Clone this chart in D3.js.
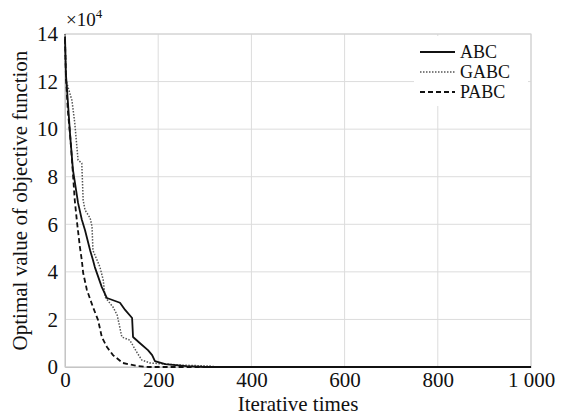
<!DOCTYPE html>
<html>
<head>
<meta charset="utf-8">
<script src="https://cdn.jsdelivr.net/npm/d3@7"></script>
<style>
  body { margin: 0; background: #fff; }
  text { font-family: "Liberation Serif", "Times New Roman", serif; fill: #111; }
</style>
</head>
<body>
<svg></svg>
<script>
// chart size
const width = 563;
const height = 415;
const margin = {top: 34, right: 32, bottom: 48, left: 65};

// data (values in units of 10^4)
const iterABC = [0, 2, 6, 11, 17, 28, 36, 43, 54, 60, 64, 79, 90, 118, 129, 144, 146, 161, 178, 187, 193, 215, 260, 300, 1000];
const valABC = [13.9, 12.3, 11.2, 9.75, 8.3, 6.9, 6.2, 5.75, 4.9, 4.5, 4.2, 3.36, 2.9, 2.7, 2.4, 2.06, 1.26, 1.0, 0.71, 0.5, 0.25, 0.12, 0.04, 0, 0];

const iterGABC = [0, 2, 15, 21, 28, 36, 39, 43, 54, 58, 60, 75, 82, 86, 103, 112, 122, 139, 155, 165, 182, 247, 311, 325, 1000];
const valGABC = [14.0, 12.06, 11.2, 10.25, 8.7, 8.57, 7.0, 6.6, 6.26, 5.9, 4.9, 4.2, 3.66, 2.94, 2.52, 2.18, 1.26, 1.13, 0.59, 0.29, 0.17, 0.08, 0.04, 0, 0];

const iterPABC = [0, 2, 6, 11, 15, 21, 26, 32, 36, 39, 47, 60, 71, 79, 90, 103, 124, 155, 180, 1000];
const valPABC = [13.8, 12.2, 10.8, 9.75, 8.7, 7.0, 6.05, 5.04, 4.5, 3.95, 3.24, 2.52, 1.97, 1.26, 0.84, 0.5, 0.17, 0.04, 0, 0];

const seriesNames = ["ABC", "GABC", "PABC"];
const xTicks = [0, 200, 400, 600, 800, 1000];
const xTickLabels = ["0", "200", "400", "600", "800", "1 000"];
const yTicks = [0, 2, 4, 6, 8, 10, 12, 14];

const svg = d3.select("svg")
  .attr("width", width)
  .attr("height", height);

const x = d3.scaleLinear().domain([0, 1000]).range([margin.left, width - margin.right]);
const y = d3.scaleLinear().domain([0, 14]).range([height - margin.bottom, margin.top]);

//grid
svg.append("g")
  .selectAll("line.vg")
  .data(xTicks)
  .enter().append("line")
  .attr("x1", d => x(d)).attr("x2", d => x(d))
  .attr("y1", y(0)).attr("y2", y(14))
  .attr("stroke", "#dcdcdc").attr("stroke-width", 1);
svg.append("g")
  .selectAll("line.hg")
  .data(yTicks)
  .enter().append("line")
  .attr("x1", x(0)).attr("x2", x(1000))
  .attr("y1", d => y(d)).attr("y2", d => y(d))
  .attr("stroke", "#dcdcdc").attr("stroke-width", 1);

//axes
const xAxis = svg.append("g")
  .attr("transform", `translate(0,${y(0)})`)
  .call(d3.axisBottom(x).tickValues(xTicks).tickFormat((d, i) => xTickLabels[i]).tickSize(0).tickPadding(5));
const yAxis = svg.append("g")
  .attr("transform", `translate(${x(0)},0)`)
  .call(d3.axisLeft(y).tickValues(yTicks).tickSize(0).tickPadding(7));
[xAxis, yAxis].forEach(a => {
  a.select(".domain").attr("stroke", "#bbb");
  a.selectAll("text").attr("font-size", 21).attr("font-family", "Liberation Serif").attr("fill", "#111");
});

//frame
svg.append("rect")
  .attr("x", x(0)).attr("y", y(14))
  .attr("width", x(1000) - x(0)).attr("height", y(0) - y(14))
  .attr("fill", "none").attr("stroke", "#cfcfcf");

//exponent label
const exp = svg.append("text").attr("x", 66).attr("y", 26).attr("font-size", 19);
exp.append("tspan").text("×10");
exp.append("tspan").text("4").attr("font-size", 13).attr("dy", -8);

//lines
const line = d3.line().x(d => x(d[0])).y(d => y(d[1]));
const data = [
  d3.zip(iterABC, valABC),
  d3.zip(iterGABC, valGABC),
  d3.zip(iterPABC, valPABC)
];
const styles = [
  {stroke: "#111", width: 1.8, dash: null},
  {stroke: "#555", width: 1.5, dash: "1.5,1.5"},
  {stroke: "#111", width: 1.8, dash: "5,3"}
];
// draw in order so solid sits on top
[1, 2, 0].forEach(i => {
  svg.append("path")
    .datum(data[i])
    .attr("d", line)
    .attr("fill", "none")
    .attr("stroke", styles[i].stroke)
    .attr("stroke-width", styles[i].width)
    .attr("stroke-dasharray", styles[i].dash)
    .attr("stroke-linejoin", "round");
});

//legend
const lg = svg.append("g");
lg.append("rect")
  .attr("x", 414).attr("y", 36).attr("width", 114).attr("height", 70)
  .attr("fill", "#fff");
seriesNames.forEach((name, i) => {
  const ly = 52 + i * 20;
  lg.append("line")
    .attr("x1", 420).attr("x2", 455).attr("y1", ly).attr("y2", ly)
    .attr("stroke", styles[i].stroke)
    .attr("stroke-width", styles[i].width)
    .attr("stroke-dasharray", styles[i].dash);
  lg.append("text")
    .attr("x", 460).attr("y", ly + 6)
    .attr("font-size", 18)
    .text(name);
});

//axis titles
svg.append("text")
  .attr("x", (x(0) + x(1000)) / 2).attr("y", 411)
  .attr("text-anchor", "middle").attr("font-size", 21)
  .text("Iterative times");
svg.append("text")
  .attr("transform", `translate(27,${(y(0) + y(14)) / 2}) rotate(-90)`)
  .attr("text-anchor", "middle").attr("font-size", 21)
  .text("Optimal value of objective function");
</script>
</body>
</html>
